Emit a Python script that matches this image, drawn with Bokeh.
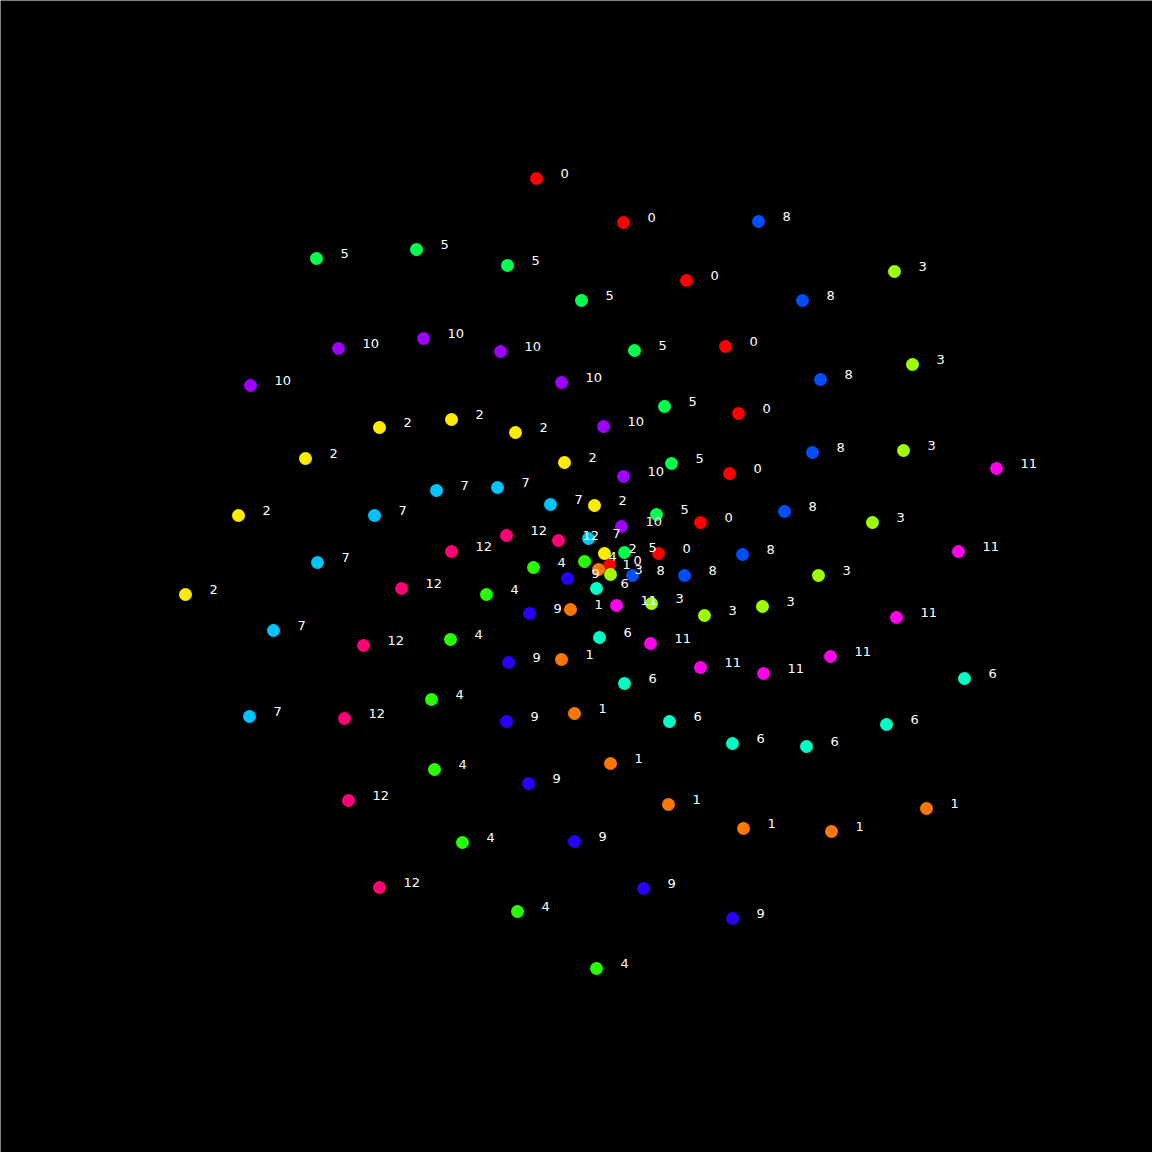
import colorsys
from bokeh.plotting import figure
from bokeh.models import ColumnDataSource, Range1d
from bokeh.core.properties import value
from bokeh.embed import file_html
from bokeh.resources import INLINE

arm_x = {
    0: [536, 623, 686, 725, 738, 729, 700, 658, 609],
    1: [926, 831, 743, 668, 610, 574, 561, 570, 598],
    2: [185, 238, 305, 379, 451, 515, 564, 594, 604],
    3: [894, 912, 903, 872, 818, 762, 704, 651, 610],
    4: [596, 517, 462, 434, 431, 450, 486, 533, 584],
    5: [316, 416, 507, 581, 634, 664, 671, 656, 624],
    6: [964, 886, 806, 732, 669, 624, 599, 596],
    7: [249, 273, 317, 374, 436, 497, 550, 588],
    8: [758, 802, 820, 812, 784, 742, 684, 632],
    9: [732, 643, 574, 528, 506, 508, 529, 567],
    10: [250, 338, 423, 500, 561, 603, 623, 621],
    11: [996, 958, 896, 830, 763, 700, 650, 616],
    12: [379, 348, 344, 363, 401, 451, 506, 558],
}
arm_y = {
    0: [178, 222, 280, 346, 413, 473, 522, 553, 565],
    1: [808, 831, 828, 804, 763, 713, 659, 609, 569],
    2: [594, 515, 458, 427, 419, 432, 462, 505, 553],
    3: [271, 364, 450, 522, 575, 606, 615, 603, 574],
    4: [968, 911, 842, 769, 699, 639, 594, 567, 561],
    5: [258, 249, 265, 300, 350, 406, 463, 514, 552],
    6: [678, 724, 746, 743, 721, 683, 637, 588],
    7: [716, 630, 562, 515, 490, 487, 504, 538],
    8: [221, 300, 379, 452, 511, 554, 575, 575],
    9: [918, 888, 841, 783, 721, 662, 613, 578],
    10: [385, 348, 338, 351, 382, 426, 476, 526],
    11: [468, 551, 617, 656, 673, 667, 643, 605],
    12: [887, 800, 718, 645, 588, 551, 535, 540],
}
arms = list(range(13))


def hue_color(k, n=13):
    r, g, b = colorsys.hsv_to_rgb(k / n, 1.0, 1.0)
    return "#%02x%02x%02x" % (round(r * 255), round(g * 255), round(b * 255))


xs, ys, labels, colors = [], [], [], []
for k in arms:
    for x, y in zip(arm_x[k], arm_y[k]):
        xs.append(x)
        ys.append(y)
        labels.append(str(k))
        colors.append(hue_color(k))

src = ColumnDataSource(dict(x=xs, y=ys, label=labels, color=colors))

p = figure(width=1152, height=1152, output_backend="svg", toolbar_location=None,
           x_range=Range1d(0, 1152), y_range=Range1d(1152, 0),
           background_fill_color="black", border_fill_color="black",
           min_border=0, outline_line_color=None)
p.axis.visible = False
p.grid.visible = False

p.scatter("x", "y", source=src, size=13, fill_color="color", line_color=None)
p.text("x", "y", text="label", source=src, x_offset=24, y_offset=-5,
       text_color="white", text_font=value("DejaVu Sans"), text_font_size="13px",
       text_baseline="middle", text_align="left")

open("out.html", "w").write(file_html(p, INLINE))
